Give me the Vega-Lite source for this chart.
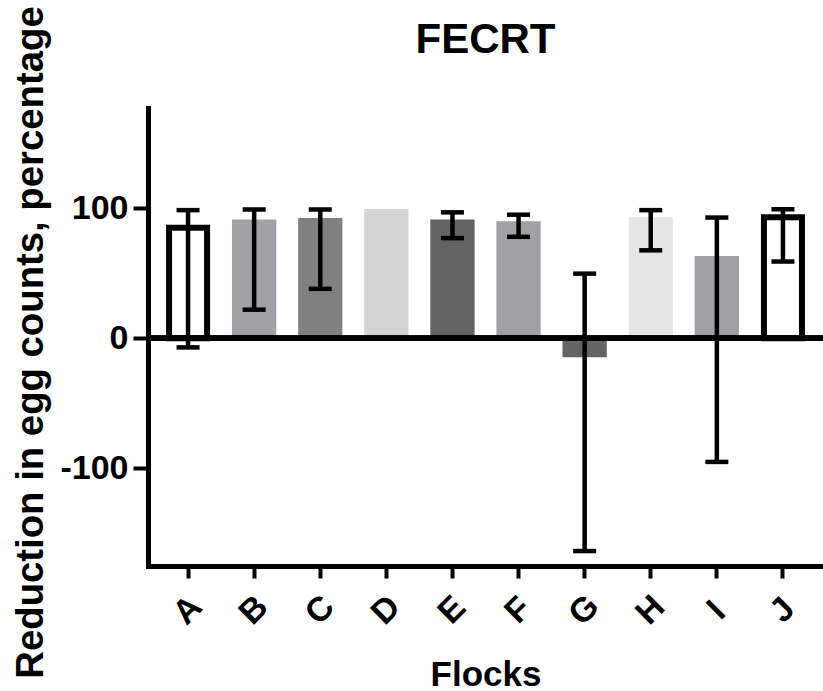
{
  "$schema": "https://vega.github.io/schema/vega-lite/v6.json",
  "autosize": {"type": "none"},
  "padding": {"left": 148, "top": 108, "right": 0, "bottom": 125},
  "width": 675,
  "height": 458,
  "background": "white",
  "view": {"stroke": null},
  "config": {
    "font": "Liberation Sans",
    "axis": {"grid": false, "labelFont": "Liberation Sans", "titleFont": "Liberation Sans", "labelFontWeight": "bold", "titleFontWeight": "bold", "labelColor": "black", "titleColor": "black", "domainColor": "black", "tickColor": "black", "domainWidth": 5, "tickWidth": 4, "domainCap": "square"}
  },
  "title": {"text": "FECRT", "font": "Liberation Sans", "fontSize": 42, "fontWeight": "bold", "color": "black", "anchor": "middle", "baseline": "alphabetic", "offset": 0, "dy": 89},
  "data": {"values": [
    {"flock": "A", "value": 85, "lo": -7, "hi": 98.5},
    {"flock": "B", "value": 91.3, "lo": 22, "hi": 99},
    {"flock": "C", "value": 92.5, "lo": 38, "hi": 99},
    {"flock": "D", "value": 99.3, "lo": null, "hi": null},
    {"flock": "E", "value": 91.3, "lo": 77, "hi": 96.8},
    {"flock": "F", "value": 90, "lo": 78, "hi": 95},
    {"flock": "G", "value": -14.5, "lo": -163.5, "hi": 49.7},
    {"flock": "H", "value": 93, "lo": 67.6, "hi": 98.5},
    {"flock": "I", "value": 63.2, "lo": -95, "hi": 92.8},
    {"flock": "J", "value": 93, "lo": 59, "hi": 99.2}
  ]},
  "encoding": {
    "x": {"field": "flock", "type": "nominal", "sort": null,
      "scale": {"type": "band", "domain": ["A","B","C","D","E","F","G","H","I","J"], "paddingInner": 0, "paddingOuter": 0.106},
      "axis": {"title": "Flocks", "titleFontSize": 35, "titleBaseline": "alphabetic", "titleY": 119, "labelAngle": -45, "labelAlign": "center", "labelBaseline": "middle", "labelPadding": 32, "labelFontSize": 34, "tickSize": 12}}
  },
  "layer": [
    {
      "transform": [{"filter": "datum.flock != 'A' && datum.flock != 'J'"}],
      "mark": {"type": "bar", "width": {"band": 0.67}},
      "encoding": {
        "y": {"field": "value", "type": "quantitative",
          "scale": {"domain": [-175, 177], "nice": false, "zero": false},
          "axis": {"title": "Reduction in egg counts, percentage", "values": [-100, 0, 100], "labelExpr": "replace(datum.label, '−', '-')", "labelFontSize": 34, "tickSize": 15, "labelPadding": 5, "titleFontSize": 38.3, "titleAngle": -90, "titleAlign": "center", "titleBaseline": "alphabetic", "titleX": -106, "titleY": 234}},
        "y2": {"datum": 0},
        "color": {"field": "flock", "type": "nominal", "legend": null,
          "scale": {"domain": ["A","B","C","D","E","F","G","H","I","J"], "range": ["#ffffff","#a1a0a5","#808080","#d4d4d4","#636363","#a1a0a5","#646464","#e6e6e6","#a1a0a5","#ffffff"]}}
      }
    },
    {
      "transform": [{"filter": "datum.flock == 'A' || datum.flock == 'J'"}],
      "mark": {"type": "bar", "width": {"band": 0.575}, "fill": "white", "stroke": "black", "strokeWidth": 6},
      "encoding": {
        "y": {"field": "value", "type": "quantitative"},
        "y2": {"datum": 0}
      }
    },
    {
      "mark": {"type": "rule", "color": "black", "strokeWidth": 5},
      "encoding": {"y": {"datum": 0}, "x": null}
    },
    {
      "mark": {"type": "rule", "color": "black", "strokeWidth": 4.5},
      "encoding": {"y": {"field": "lo", "type": "quantitative"}, "y2": {"field": "hi"}}
    },
    {
      "mark": {"type": "tick", "color": "black", "size": 23, "thickness": 4.5, "opacity": 1},
      "encoding": {"y": {"field": "hi", "type": "quantitative"}}
    },
    {
      "mark": {"type": "tick", "color": "black", "size": 23, "thickness": 4.5, "opacity": 1},
      "encoding": {"y": {"field": "lo", "type": "quantitative"}}
    }
  ]
}
